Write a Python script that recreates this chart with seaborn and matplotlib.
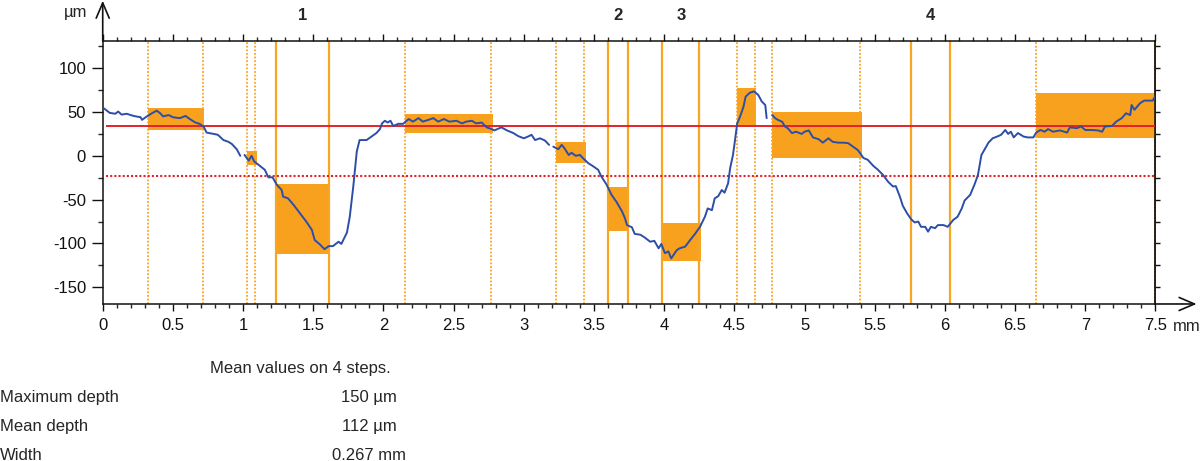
import numpy as np
import pandas as pd
import matplotlib
matplotlib.use("Agg")
import matplotlib.pyplot as plt
from matplotlib import ticker
from matplotlib import transforms
import seaborn as sns

# profile, four pieces (the trace has small gaps)
part1_x = [0.01, 0.05, 0.09, 0.11, 0.135, 0.17, 0.22, 0.27, 0.28, 0.31, 0.35, 0.385, 0.41, 0.43, 0.47,
           0.50, 0.55, 0.59, 0.62, 0.66, 0.69, 0.72, 0.74, 0.79, 0.82, 0.86, 0.895, 0.92, 0.955, 0.98]
part1_y = [54, 49, 48, 50.5, 47, 48, 45.5, 44, 41, 44.5, 48.5, 51.5, 48.5, 45, 46.5,
           44, 43, 45.5, 42, 38, 36.5, 33, 26.5, 25, 24, 18, 16, 13.5, 7.5, 0]

part2_x = [1.01, 1.04, 1.06, 1.08, 1.12, 1.155, 1.18, 1.21, 1.24, 1.275, 1.285, 1.32, 1.36, 1.405, 1.45,
           1.49, 1.51, 1.55, 1.58, 1.61, 1.64, 1.68, 1.70, 1.74, 1.76, 1.785, 1.81, 1.83, 1.88, 1.915,
           1.95, 1.975, 1.99, 2.01, 2.03, 2.05, 2.07, 2.105, 2.14, 2.18, 2.21, 2.25, 2.28, 2.32, 2.355,
           2.39, 2.43, 2.47, 2.52, 2.56, 2.59, 2.63, 2.66, 2.70, 2.735, 2.77, 2.79, 2.84, 2.88, 2.925,
           2.96, 3.00, 3.03, 3.055, 3.08, 3.115, 3.15, 3.18]
part2_y = [1, -5.5, 0, -6.5, -11.5, -16, -24.5, -24.5, -33, -39, -46.5, -48.5, -56, -65.5, -75,
           -84.5, -96, -101.5, -106.5, -103, -103, -98, -100.5, -87.5, -69.5, -35, 5, 18, 18, 22,
           26, 30.5, 37, 40, 38, 40, 34, 36.5, 36.5, 42, 39, 43, 39, 41, 43,
           39, 42, 39, 40, 37, 39, 40, 37, 38, 32.5, 30.5, 29, 32.5, 29, 26,
           22.5, 20, 22, 24, 18, 20, 17.5, 12.5]

part3_x = [3.21, 3.245, 3.27, 3.29, 3.32, 3.34, 3.37, 3.40, 3.42, 3.46, 3.49, 3.53, 3.55, 3.59, 3.625,
           3.66, 3.70, 3.72, 3.735, 3.77, 3.79, 3.83, 3.86, 3.90, 3.93, 3.96, 3.98, 4.005, 4.03, 4.05,
           4.09, 4.11, 4.15, 4.185, 4.22, 4.255, 4.29, 4.31, 4.34, 4.36, 4.385, 4.41, 4.43, 4.455, 4.47,
           4.49, 4.50, 4.52, 4.54, 4.565, 4.58, 4.61, 4.64, 4.67, 4.695, 4.72, 4.73]
part3_y = [10.5, 7.5, 12.5, 8.5, 1, 3.5, 0, 1, -2.5, -8.5, -11.5, -16, -23, -33, -44.5,
           -52.5, -63.5, -71, -79, -81.5, -89, -90, -93, -98, -97, -105.5, -100.5, -111, -109, -117,
           -107.5, -105.5, -103.5, -96, -89, -81, -69.5, -60, -62, -48.5, -46, -39, -42, -31.5, -14,
           1, 12.5, 37, 44.5, 56, 67.5, 72, 73.5, 69.5, 62, 58, 43]

part4_x = [4.77, 4.79, 4.81, 4.84, 4.86, 4.88, 4.91, 4.94, 4.98, 5.00, 5.03, 5.06, 5.10, 5.13, 5.17,
           5.20, 5.24, 5.275, 5.31, 5.345, 5.38, 5.42, 5.45, 5.49, 5.52, 5.56, 5.595, 5.63, 5.65, 5.68,
           5.70, 5.73, 5.76, 5.785, 5.81, 5.83, 5.86, 5.88, 5.90, 5.93, 5.95, 5.99, 6.02, 6.06, 6.09,
           6.12, 6.14, 6.18, 6.21, 6.235, 6.26, 6.28, 6.31, 6.34, 6.38, 6.40, 6.43, 6.45, 6.47, 6.49,
           6.52, 6.56, 6.59, 6.63, 6.65, 6.68, 6.71, 6.735, 6.77, 6.82, 6.87, 6.89, 6.94, 6.97, 7.00,
           7.04, 7.09, 7.12, 7.14, 7.19, 7.22, 7.26, 7.29, 7.32, 7.33, 7.35, 7.39, 7.42, 7.48, 7.495]
part4_y = [46.5, 43, 41, 39, 33.5, 31.5, 26, 27.5, 25, 27.5, 29, 21, 19, 15, 20,
           16, 15, 15, 14.5, 10.5, 6.5, -2.5, -4.5, -11.5, -15.5, -22, -29.5, -35, -34.5, -47,
           -57, -65.5, -72.5, -76, -75, -81, -81, -86.5, -81, -82.5, -79, -79, -81, -73, -69.5,
           -60, -51, -44.5, -33, -22, 1, 6.5, 15, 20, 22.5, 24, 29.5, 25, 27.5, 21,
           26, 22, 21, 21, 26.5, 29.5, 27.5, 30.5, 27.5, 29, 26.5, 32.5, 31.5, 33.5, 29.5,
           29.5, 29, 27.5, 33.5, 34, 39, 43, 48.5, 46.5, 58, 52.5, 60, 63, 63, 67]

# mean-level boxes
box_x0 = [0.32, 1.03, 1.24, 2.15, 3.23, 3.60, 3.99, 4.52, 4.77, 6.65]
box_x1 = [0.725, 1.10, 1.62, 2.78, 3.44, 3.75, 4.26, 4.655, 5.41, 7.5]
box_lo = [29.5, -11, -112, 26, -8, -85.5, -120.5, 34, -2, 20]
box_hi = [55, 5, -32, 47.5, 16, -36, -76.5, 77, 49.5, 71.5]

# cursor positions
dotted_x = [0.32, 0.715, 1.03, 1.085, 2.153, 2.766, 3.231, 3.428, 4.518, 4.646, 4.769, 5.396, 6.65, 7.495]
step_edges = [(1.237, 1.61), (3.599, 3.741), (3.986, 4.25), (5.757, 6.035)]
step_names = ["1", "2", "3", "4"]

ref_level = 34.5
threshold_level = -22.5

summary_labels = ["Maximum depth", "Mean depth", "Width"]
summary_values = ["150 µm", "112 µm", "0.267 mm"]

BLUE = "#2d4ea8"
ORANGE = "#f8a11e"
LINE_ORANGE = "#f8a526"
RED = "#e3222a"

sns.set_style("white")
plt.rcParams["font.family"] = ["Liberation Sans", "DejaVu Sans"]
plt.rcParams["axes.unicode_minus"] = False

parts = []
for i, (px, py) in enumerate([(part1_x, part1_y), (part2_x, part2_y),
                              (part3_x, part3_y), (part4_x, part4_y)]):
    parts.append(pd.DataFrame({"x": px, "y": py, "part": i}))
profile = pd.concat(parts, ignore_index=True)

fig = plt.figure(figsize=(12, 4.61), dpi=100)
ax = fig.add_axes([0.0856, 0.3406, 0.8773, 0.5705])

# boxes
heights = np.array(box_hi) - np.array(box_lo)
widths = np.array(box_x1) - np.array(box_x0)
ax.bar(box_x0, heights, width=widths, bottom=box_lo, align="edge",
       color=ORANGE, linewidth=0, zorder=1)

for xv in dotted_x:
    ax.axvline(xv, color=LINE_ORANGE, lw=1.3, ls=(0, (1, 1)), zorder=2)
for a, b in step_edges:
    ax.axvline(a, color=LINE_ORANGE, lw=1.6, zorder=2)
    ax.axvline(b, color=LINE_ORANGE, lw=1.6, zorder=2)

ax.hlines(ref_level, 0.02, 7.5, color=RED, lw=1.4, zorder=3)
ax.hlines(threshold_level, 0.02, 7.5, color=RED, lw=1.5, ls=(0, (1, 1)), zorder=3)

sns.lineplot(data=profile, x="x", y="y", units="part", estimator=None, sort=False,
             color=BLUE, lw=1.4, ax=ax, zorder=4)

ax.set_xlim(0, 7.5)
ax.set_ylim(-169, 131)
ax.set_xlabel("")
ax.set_ylabel("")

ax.set_xticks(np.arange(0, 7.51, 0.5))
ax.xaxis.set_major_formatter(ticker.FuncFormatter(lambda v, p: f"{v:g}"))
ax.xaxis.set_minor_locator(ticker.MultipleLocator(0.1))
ax.set_yticks([-150, -100, -50, 0, 50, 100])
ax.yaxis.set_minor_locator(ticker.MultipleLocator(25))

ax.tick_params(axis="x", which="major", direction="out", length=5, width=1,
               top=True, bottom=True, labelsize=12, pad=5, colors="#111111")
ax.tick_params(axis="x", which="minor", direction="out", length=3, width=1,
               top=True, bottom=True)
ax.tick_params(axis="y", which="major", direction="out", length=8, width=1,
               left=True, right=False, labelsize=12, pad=4, colors="#111111")
ax.tick_params(axis="y", which="minor", direction="out", length=3.6, width=1,
               left=True, right=False)

for s in ax.spines.values():
    s.set_color("#111111")
    s.set_linewidth(1.1)

sec = ax.secondary_yaxis("right")
sec.set_yticks(np.arange(-150, 126, 25))
sec.tick_params(direction="out", length=3.6, width=1, labelright=False, colors="#111111")
sec.spines["right"].set_linewidth(1.1)

# axis arrows
arrow = dict(arrowstyle="->,head_length=1.1,head_width=0.47", lw=1.2, color="#111111",
             shrinkA=0, shrinkB=0, mutation_scale=10)
ax.annotate("", xy=(0, 1.153), xytext=(0, 1.0), xycoords="axes fraction",
            arrowprops=arrow, annotation_clip=False)
ax.annotate("", xy=(1.039, 0), xytext=(1.0, 0), xycoords="axes fraction",
            arrowprops=arrow, annotation_clip=False)

fig.text(76 / 1200, 1 - 13 / 461, "µm", ha="center", va="center", fontsize=12)
fig.text(1173 / 1200, 1 - 330.7 / 461, "mm", ha="left", va="baseline", fontsize=12)

# step numbers over each step
top_trans = transforms.blended_transform_factory(ax.transData, ax.transAxes)
for (a, b), name in zip(step_edges, step_names):
    ax.text((a + b) / 2, 1.095, name, transform=top_trans, ha="center", va="center",
            fontsize=12, fontweight="bold")

# summary table under the chart
fig.text(210 / 1200, 1 - 373.3 / 461, "Mean values on 4 steps.", ha="left", va="baseline", fontsize=12)
for i, (lab, val) in enumerate(zip(summary_labels, summary_values)):
    base = 1 - (402 + 29 * i) / 461
    fig.text(0.0, base, lab, ha="left", va="baseline", fontsize=12)
    fig.text(369 / 1200, base, val, ha="center", va="baseline", fontsize=12)

fig.savefig("out.png", dpi=100)
